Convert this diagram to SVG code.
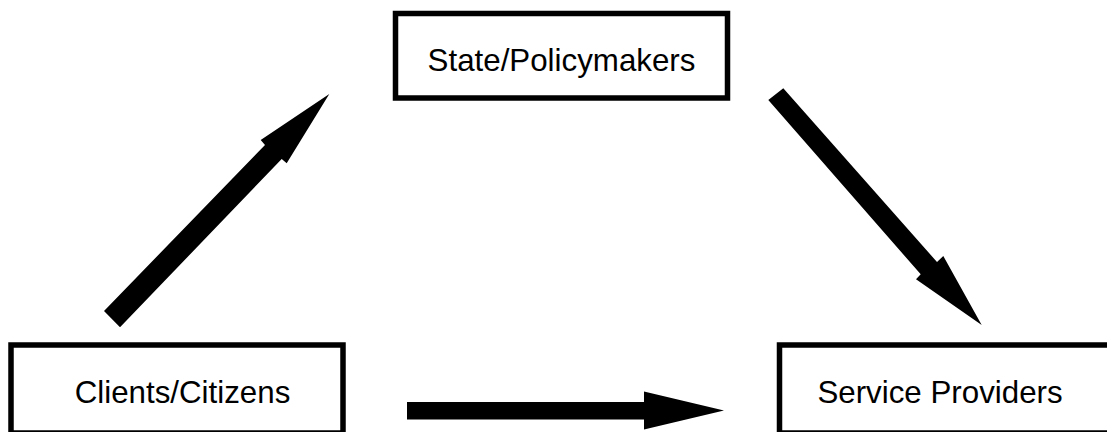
<svg xmlns="http://www.w3.org/2000/svg" width="1107" height="432" viewBox="0 0 1107 432">
  <style>
    .box { fill: #ffffff; stroke: #000000; stroke-width: 5.5; }
    .label { font-family: "Liberation Sans", Arial, sans-serif; font-size: 31.3px; fill: #000000; text-anchor: middle; }
    .arrow { fill: #000000; stroke: none; }
  </style>
  <rect width="1107" height="432" fill="#ffffff"/>

  <g id="state">
    <rect class="box" x="395.5" y="13.5" width="332" height="84.5"/>
    <text class="label" x="561.5" y="71">State/Policymakers</text>
  </g>

  <g id="clients">
    <rect class="box" x="11" y="345" width="332" height="88"/>
    <text class="label" x="182.5" y="403">Clients/Citizens</text>
  </g>

  <g id="providers">
    <rect class="box" x="779.5" y="345" width="332" height="88"/>
    <text class="label" x="940" y="403">Service Providers</text>
  </g>

  <g id="connectors">
    <!-- clients to state -->
    <polygon class="arrow" points="104,311 265,145 260.7,140 329.3,94 286.7,163.3 281.7,159 120,327.3"/>
    <!-- state to providers -->
    <polygon class="arrow" points="783.3,88.3 937,262 943.3,256 981.7,325 916,279.3 920.7,274.3 768.3,100"/>
    <!-- clients to providers -->
    <polygon class="arrow" points="407,402 644,402 644,391.5 724,410.5 644,429.5 644,419.5 407,419.5"/>
  </g>
</svg>
